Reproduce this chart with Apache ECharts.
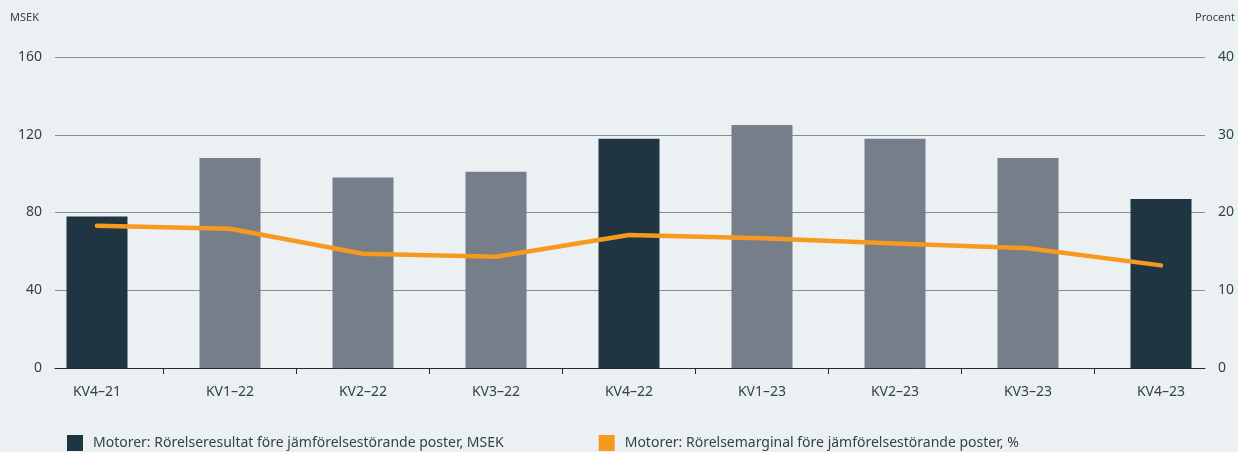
<!DOCTYPE html>
<html>
<head>
<meta charset="utf-8">
<script src="https://cdn.jsdelivr.net/npm/echarts@6/dist/echarts.min.js"></script>
<style>
  html, body { margin: 0; padding: 0; background: #ebf0f3; }
  #chart { width: 1238px; height: 452px; }
</style>
</head>
<body>
<div id="chart"></div>
<script>
// kvartal
const categories = ['KV4–21', 'KV1–22', 'KV2–22', 'KV3–22', 'KV4–22', 'KV1–23', 'KV2–23', 'KV3–23', 'KV4–23'];
// Rörelseresultat, MSEK
const resultat = [78, 108, 98, 101, 118, 125, 118, 108, 87];
// Rörelsemarginal, %
const marginal = [18.3, 17.9, 14.7, 14.3, 17.1, 16.7, 16.0, 15.4, 13.2];
const leftTicks = [0, 40, 80, 120, 160];
const rightTicks = [0, 10, 20, 30, 40];

const seriesNames = [
  'Motorer: Rörelseresultat före jämförelsestörande poster, MSEK',
  'Motorer: Rörelsemarginal före jämförelsestörande poster, %'
];

const dark = '#1f3541';
const gray = '#767f89';
const orange = '#f7991f';
const textColor = '#33424d';
const font = 'Noto Sans';

// plotytan för staplarna, en kategori = 133px
const plotLeft = 30.5;
const plotRight = 10.5;
const band = (1238 - plotLeft - plotRight) / categories.length;

let myChart = echarts.init(document.getElementById('chart'));

// fjärde kvartalet mörkare
const barData = resultat.map((v, i) => ({
  value: v,
  itemStyle: { color: categories[i].indexOf('KV4') === 0 ? dark : gray }
}));

// streck mellan kategorierna (bara de inre)
const dividers = categories.slice(1).map(() => '');

let option = {
  backgroundColor: '#ebf0f3',
  textStyle: { fontFamily: font, color: textColor },
  animation: false,
  title: [
    { text: 'MSEK', left: 10, top: 12, padding: 0, textStyle: { fontSize: 11, fontWeight: 'normal', color: textColor, fontFamily: font } },
    { text: 'Procent', right: 3, top: 12, padding: 0, textStyle: { fontSize: 11, fontWeight: 'normal', color: textColor, fontFamily: font } }
  ],
  legend: {
    left: 67,
    top: 435,
    padding: 0,
    icon: 'rect',
    itemWidth: 16,
    itemHeight: 16,
    itemGap: 95,
    textStyle: { fontSize: 14, color: textColor, fontFamily: font, padding: [0, 0, 0, 5] },
    data: [
      { name: seriesNames[0], itemStyle: { color: dark } },
      { name: seriesNames[1], itemStyle: { color: orange } }
    ]
  },
  grid: [
    // staplar och linje
    { left: plotLeft, right: plotRight, top: 57, bottom: 84 },
    // axlar och stödlinjer
    { left: 55, right: 33, top: 57, bottom: 84 },
    // kategoristreck
    { left: plotLeft + band, right: plotRight + band, top: 57, bottom: 84 }
  ],
  xAxis: [
    {
      type: 'category',
      gridIndex: 0,
      data: categories,
      axisLine: { show: false },
      axisTick: { show: false },
      axisLabel: { fontSize: 14, color: textColor, margin: 17 }
    },
    {
      type: 'value',
      gridIndex: 1,
      min: 0,
      max: 1,
      axisLine: { show: true, lineStyle: { color: '#1f2b33', width: 1 } },
      axisTick: { show: false },
      axisLabel: { show: false },
      splitLine: { show: false }
    },
    {
      type: 'category',
      gridIndex: 2,
      data: dividers,
      boundaryGap: false,
      axisLine: { show: false },
      axisTick: { show: true, interval: 0, length: 6, lineStyle: { color: '#1f2b33', width: 1 } },
      axisLabel: { show: false }
    }
  ],
  yAxis: [
    { type: 'value', gridIndex: 0, min: leftTicks[0], max: leftTicks[leftTicks.length - 1], show: false },
    { type: 'value', gridIndex: 0, min: rightTicks[0], max: rightTicks[rightTicks.length - 1], show: false },
    {
      type: 'value',
      gridIndex: 1,
      min: leftTicks[0],
      max: leftTicks[leftTicks.length - 1],
      interval: leftTicks[1] - leftTicks[0],
      axisLine: { show: false },
      axisTick: { show: false },
      axisLabel: { fontSize: 14, color: textColor, margin: 13 },
      splitLine: { lineStyle: { color: '#858d95', width: 1 } }
    },
    {
      type: 'value',
      gridIndex: 1,
      position: 'right',
      min: rightTicks[0],
      max: rightTicks[rightTicks.length - 1],
      interval: rightTicks[1] - rightTicks[0],
      axisLine: { show: false },
      axisTick: { show: false },
      axisLabel: { fontSize: 14, color: textColor, margin: 13 },
      splitLine: { show: false }
    },
    { type: 'value', gridIndex: 2, show: false }
  ],
  series: [
    {
      name: seriesNames[0],
      type: 'bar',
      xAxisIndex: 0,
      yAxisIndex: 0,
      barWidth: 61,
      color: dark,
      data: barData
    },
    {
      name: seriesNames[1],
      type: 'line',
      xAxisIndex: 0,
      yAxisIndex: 1,
      color: orange,
      symbol: 'none',
      lineStyle: { color: orange, width: 4.5, cap: 'round', join: 'round' },
      data: marginal
    }
  ]
};
myChart.setOption(option);
</script>
</body>
</html>
